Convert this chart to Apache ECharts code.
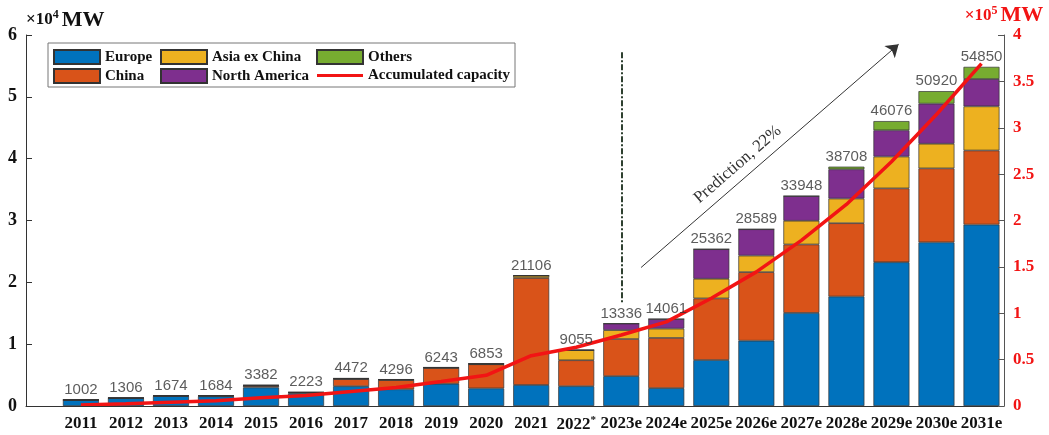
<!DOCTYPE html>
<html>
<head>
<meta charset="utf-8">
<script src="https://cdn.jsdelivr.net/npm/echarts@6/dist/echarts.min.js"></script>
<style>
	html, body { margin: 0; padding: 0; background: #fff; }
	#myChart { width: 1049px; height: 435px; }
</style>
</head>
<body>
<div id="myChart"></div>
<script>
	// year labels on the x axis
	const yearLabels = ['2011', '2012', '2013', '2014', '2015', '2016', '2017', '2018', '2019', '2020', '2021', '2022{s|*}', '2023e', '2024e', '2025e', '2026e', '2027e', '2028e', '2029e', '2030e', '2031e'];

	// yearly installed capacity by region, MW
	const europe = [960, 1250, 1600, 1560, 3000, 2050, 3200, 2700, 3600, 2850, 3400, 3200, 4830, 2890, 7430, 10560, 15058, 17705, 23250, 26470, 29343];
	const china = [20, 30, 40, 80, 250, 120, 1150, 1500, 2550, 3900, 17300, 4200, 6000, 8120, 9970, 11094, 11068, 11857, 11944, 11959, 11982];
	const asiaExChina = [8, 10, 12, 14, 30, 20, 40, 30, 30, 40, 380, 1630, 1440, 1500, 3180, 2667, 3831, 3988, 5149, 3986, 7136];
	const northAmerica = [10, 12, 16, 24, 80, 25, 60, 50, 45, 45, 0, 0, 1066, 1551, 4782, 4268, 3991, 4732, 4247, 6485, 4420];
	const others = [4, 4, 6, 6, 22, 8, 22, 16, 18, 18, 26, 25, 0, 0, 0, 0, 0, 426, 1486, 2020, 1969];
	const totals = [1002, 1306, 1674, 1684, 3382, 2223, 4472, 4296, 6243, 6853, 21106, 9055, 13336, 14061, 25362, 28589, 33948, 38708, 46076, 50920, 54850];

	// accumulated capacity, x10^5 MW
	const accumulated = [0.010, 0.023, 0.040, 0.057, 0.090, 0.113, 0.157, 0.200, 0.263, 0.331, 0.542, 0.633, 0.766, 0.907, 1.161, 1.446, 1.786, 2.173, 2.634, 3.143, 3.691];

	const serif = 'Liberation Serif';
	const red = '#f21414';

	const barBase = {
		type: 'bar',
		stack: 'total',
		barWidth: 36,
		itemStyle: { borderColor: '#333', borderWidth: 0.7 },
		emphasis: { disabled: true }
	};

	const unitName = (color) => ({
		verticalAlign: 'bottom',
		rich: {
			a: { fontFamily: serif, fontWeight: 'bold', fontSize: 17, color: color },
			b: { fontFamily: serif, fontWeight: 'bold', fontSize: 12, color: color, verticalAlign: 'top', padding: [0, 3, 9, 0] },
			c: { fontFamily: serif, fontWeight: 'bold', fontSize: 22, color: color }
		}
	});

	let myChart = echarts.init(document.getElementById('myChart'));
	myChart.setOption({
		animation: false,
		color: ['#0072BD', '#D95319', '#EDB120', '#7E2F8E', '#77AC30', red],
		grid: [
			{ left: 58.4, right: 45, top: 35, bottom: 29, containLabel: false, outerBoundsMode: 'none' },
			// only carries the full-length x axis line
			{ left: 26, right: 45, top: 35, bottom: 29, containLabel: false, outerBoundsMode: 'none' }
		],
		graphic: [{
			type: 'rect',
			z: 1,
			shape: { x: 48, y: 43, width: 467, height: 44 },
			style: { fill: '#fff', stroke: '#777', lineWidth: 1 }
		}],
		legend: [
			{ data: ['Europe', 'China'], left: 53, top: 49 },
			{ data: ['Asia ex China', 'North America'], left: 160, top: 49 },
			{ data: ['Others', { name: 'Accumulated capacity', icon: 'path://M0,0 H46 V3 H0 Z' }], left: 316, top: 49 }
		].map(l => Object.assign(l, {
			orient: 'vertical',
			icon: 'rect',
			itemWidth: 46,
			itemHeight: 14,
			itemGap: 3,
			padding: 0,
			z: 5,
			textStyle: { fontFamily: serif, fontWeight: 'bold', fontSize: 15, color: '#111' }
		})),
		xAxis: [{
			type: 'category',
			gridIndex: 0,
			data: yearLabels,
			z: 10,
			axisLine: { show: false },
			axisTick: { inside: true, alignWithLabel: true, length: 6, lineStyle: { color: '#333' } },
			axisLabel: {
				interval: 0,
				margin: 9,
				fontFamily: serif,
				fontWeight: 'bold',
				fontSize: 17,
				color: '#111',
				rich: {
					s: { fontFamily: serif, fontWeight: 'bold', fontSize: 11, color: '#111', verticalAlign: 'top', padding: [0, 0, 8, 0] }
				}
			}
		}, {
			type: 'value',
			gridIndex: 1,
			min: 0,
			max: 1,
			z: 10,
			splitLine: { show: false },
			axisTick: { show: false },
			axisLabel: { show: false },
			axisLine: { show: true, onZero: false, lineStyle: { color: '#333' } }
		}, {
			// hidden continuous twin of the category axis, for the prediction arrow
			type: 'value',
			gridIndex: 0,
			position: 'top',
			min: -0.5,
			max: 20.5,
			show: false
		}],
		yAxis: [{
			type: 'value',
			gridIndex: 0,
			offset: 32.4,
			min: 0,
			max: 60000,
			interval: 10000,
			z: 10,
			splitLine: { show: false },
			axisLine: { show: true, onZero: false, lineStyle: { color: '#333' } },
			axisTick: { show: true, inside: true, length: 6, lineStyle: { color: '#333' } },
			axisLabel: {
				margin: 9,
				fontFamily: serif,
				fontWeight: 'bold',
				fontSize: 18,
				color: '#111',
				formatter: v => v / 10000
			},
			name: '{a|×10}{b|4}{c|MW}',
			nameLocation: 'end',
			nameGap: 4,
			nameTextStyle: Object.assign({ align: 'left' }, unitName('#111'))
		}, {
			type: 'value',
			gridIndex: 0,
			position: 'right',
			min: 0,
			max: 4,
			interval: 0.5,
			z: 10,
			splitLine: { show: false },
			axisLine: { show: true, onZero: false, lineStyle: { color: '#555' } },
			axisTick: { show: true, inside: true, length: 6, lineStyle: { color: '#555' } },
			axisLabel: {
				margin: 9,
				fontFamily: serif,
				fontWeight: 'bold',
				fontSize: 17,
				color: red
			},
			name: '{a|×10}{b|5}{c|MW}',
			nameLocation: 'end',
			nameGap: 4,
			nameTextStyle: Object.assign({ align: 'center' }, unitName(red))
		}, {
			type: 'value',
			gridIndex: 1,
			min: 0,
			max: 1,
			show: false
		}],
		series: [
			Object.assign({ name: 'Europe', data: europe }, barBase),
			Object.assign({ name: 'China', data: china }, barBase),
			Object.assign({ name: 'Asia ex China', data: asiaExChina }, barBase),
			Object.assign({ name: 'North America', data: northAmerica }, barBase),
			Object.assign({
				name: 'Others',
				data: others,
				markLine: {
					silent: true,
					animation: false,
					symbol: ['none', 'none'],
					label: { show: false },
					lineStyle: { color: '#2e4030', width: 2, type: [6, 2, 2, 2] },
					data: [[{ coord: [12, 57200] }, { coord: [12, 16700] }]]
				}
			}, barBase),
			{
				name: 'Accumulated capacity',
				type: 'line',
				yAxisIndex: 1,
				z: 4,
				symbol: 'none',
				lineStyle: { width: 3.5, color: red },
				itemStyle: { color: red },
				data: accumulated
			},
			{
				name: 'totals',
				type: 'scatter',
				z: 5,
				silent: true,
				symbolSize: 1,
				itemStyle: { color: 'rgba(0,0,0,0)' },
				label: {
					show: true,
					position: 'top',
					distance: 2,
					fontFamily: 'Liberation Sans',
					fontSize: 15,
					color: '#333',
					formatter: p => p.value
				},
				data: totals
			},
			{
				name: 'prediction',
				type: 'lines',
				coordinateSystem: 'cartesian2d',
				xAxisIndex: 2,
				yAxisIndex: 0,
				z: 6,
				silent: true,
				symbol: ['none', 'arrow'],
				symbolSize: 12,
				lineStyle: { color: '#333', width: 1, opacity: 1 },
				label: {
					show: true,
					position: 'insideMiddleTop',
					formatter: 'Prediction, 22%',
					fontFamily: serif,
					fontSize: 17,
					color: '#333',
					distance: 6,
					padding: [0, 60, 0, 0]
				},
				data: [{ coords: [[12.44, 22400], [18.16, 58500]] }]
			}
		]
	});
</script>
</body>
</html>
